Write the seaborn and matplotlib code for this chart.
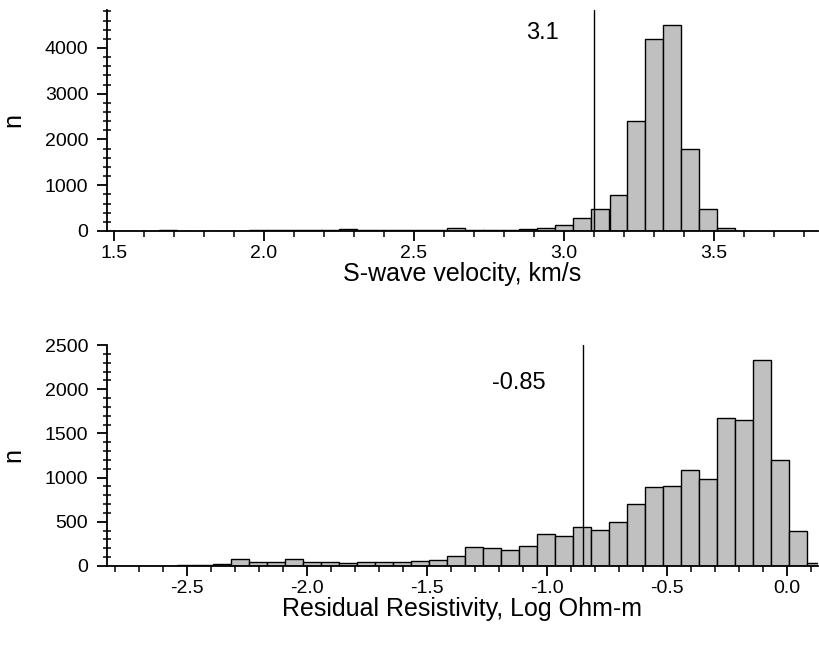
import numpy as np
import pandas as pd
import matplotlib
matplotlib.use("Agg")
import matplotlib.pyplot as plt
import seaborn as sns
from matplotlib.ticker import MultipleLocator, FormatStrFormatter

# ---- data ----
# S-wave velocity histogram: bins of 0.06 km/s starting at 1.472
vs_bin_start = 1.472
vs_bin_width = 0.06
vs_counts = [10, 5, 8, 12, 6, 10, 8, 10, 12, 15, 12, 18, 20, 50, 15, 30, 25, 30,
             30, 55, 15, 30, 20, 40, 60, 124, 291, 474, 787, 2404, 4197, 4510,
             1792, 481, 66, 5]
vs_threshold = 3.1

# Residual resistivity histogram: bins of 0.075 starting at -2.8393
rr_bin_start = -2.8393
rr_bin_width = 0.075
rr_counts = [5, 5, 5, 5, 8, 10, 20, 78, 48, 42, 75, 42, 50, 32, 42, 50, 42, 57,
             66, 115, 215, 204, 185, 226, 366, 340, 441, 411, 494, 705, 897, 909,
             1086, 984, 1678, 1652, 2334, 1203, 400, 34]
rr_threshold = -0.85

# ---- style ----
sns.set_theme(style="ticks")
plt.rcParams["font.family"] = ["Liberation Sans", "DejaVu Sans"]
plt.rcParams["axes.unicode_minus"] = False
plt.rcParams["text.color"] = "black"
plt.rcParams["axes.labelcolor"] = "black"

fig = plt.figure(figsize=(8.19, 6.48), dpi=100)
ax1 = fig.add_axes([107 / 819, 1 - 231 / 648, 711 / 819, 221 / 648])
ax2 = fig.add_axes([107 / 819, 1 - 566 / 648, 711 / 819, 221 / 648])


def draw(ax, start, width, counts, thr, ylim, xlim, ymaj, ymin, xlabel):
    n = len(counts)
    edges = [float(v) for v in start + width * np.arange(n + 1)]
    centers = [(edges[i] + edges[i + 1]) / 2 for i in range(n)]
    df = pd.DataFrame({"x": centers, "n": counts})
    sns.histplot(data=df, x="x", weights="n", bins=edges, ax=ax,
                 color="#C0C0C0", edgecolor="black", linewidth=1.0, alpha=1.0)
    ax.axvline(thr, color="black", linewidth=1.0)
    ax.set_xlim(*xlim)
    ax.set_ylim(*ylim)
    ax.yaxis.set_major_locator(MultipleLocator(ymaj))
    ax.yaxis.set_minor_locator(MultipleLocator(ymin))
    ax.xaxis.set_major_locator(MultipleLocator(0.5))
    ax.xaxis.set_minor_locator(MultipleLocator(0.1))
    ax.xaxis.set_major_formatter(FormatStrFormatter("%.1f"))
    sns.despine(ax=ax)
    for s in ["left", "bottom"]:
        ax.spines[s].set_linewidth(1.3)
        ax.spines[s].set_color("black")
    ax.tick_params(axis="both", which="major", direction="out", length=7,
                   width=1.3, labelsize=14, colors="black", labelcolor="black")
    ax.tick_params(axis="x", which="major", pad=3)
    ax.tick_params(axis="y", which="major", pad=6.5)
    ax.tick_params(axis="x", which="minor", direction="out", length=4, width=1.3)
    ax.tick_params(axis="y", which="minor", direction="inout", length=6, width=1.3)
    ax.set_xlabel(xlabel, fontsize=18, labelpad=0, color="black")
    ax.set_ylabel("n", fontsize=18, labelpad=14, color="black")
    return ax


draw(ax1, vs_bin_start, vs_bin_width, vs_counts, vs_threshold,
     (0, 4830), (1.477, 3.847), 1000, 200, "S-wave velocity, km/s")
draw(ax2, rr_bin_start, rr_bin_width, rr_counts, rr_threshold,
     (0, 2500), (-2.832, 0.13), 500, 100, "Residual Resistivity, Log Ohm-m")

ax1.text(2.927, 4330, "3.1", fontsize=17, ha="center", va="center", color="black")
ax2.text(-1.115, 2070, "-0.85", fontsize=17, ha="center", va="center", color="black")

fig.savefig("out.png", dpi=100)
